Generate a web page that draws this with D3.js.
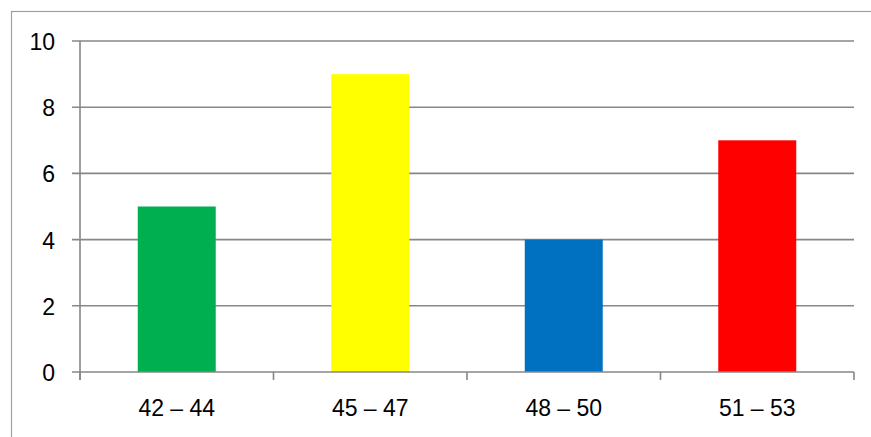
<!DOCTYPE html>
<html><head><meta charset="utf-8">
<script src="https://cdn.jsdelivr.net/npm/d3@7"></script>
<style>body{margin:0;background:#fff}svg{display:block}</style>
</head><body>
<script>
const categories = ["42 – 44", "45 – 47", "48 – 50", "51 – 53"];
const values = [5, 9, 4, 7];
const colors = ["#00B050", "#FFFF00", "#0070C0", "#FF0000"];
const yTicks = [0, 2, 4, 6, 8, 10];

const W = 871, H = 437;
const m = {left: 80, right: 17, top: 41, bottom: 65};
const svg = d3.select("body").append("svg").attr("width", W).attr("height", H);

// chart border (extends past right/bottom)
svg.append("rect").attr("x", 11.5).attr("y", 11.5).attr("width", W + 10).attr("height", H + 10)
  .attr("fill", "none").attr("stroke", "#a0a0a0").attr("stroke-width", 1.2);

const x = d3.scaleBand().domain(categories).range([m.left, W - m.right]).paddingInner(0.597).paddingOuter(0.2985);
const xb = d3.scaleBand().domain(categories).range([m.left, W - m.right]);
const y = d3.scaleLinear().domain([0, 10]).range([H - m.bottom, m.top]);

const gridColor = "#878787";
// gridlines
svg.append("g").selectAll("line").data(yTicks.filter(d => d > 0)).join("line")
  .attr("x1", m.left - 8).attr("x2", W - m.right)
  .attr("y1", d => y(d)).attr("y2", d => y(d))
  .attr("stroke", gridColor).attr("stroke-width", 1.6);

// bars
svg.append("g").selectAll("rect").data(values).join("rect")
  .attr("x", (d, i) => x(categories[i])).attr("width", x.bandwidth())
  .attr("y", d => y(d)).attr("height", d => y(0) - y(d))
  .attr("fill", (d, i) => colors[i]);

// y axis line
svg.append("line").attr("x1", m.left).attr("x2", m.left).attr("y1", y(10)).attr("y2", y(0) + 8)
  .attr("stroke", gridColor).attr("stroke-width", 1.6);
// x axis baseline
svg.append("line").attr("x1", m.left - 8).attr("x2", W - m.right).attr("y1", y(0)).attr("y2", y(0))
  .attr("stroke", gridColor).attr("stroke-width", 1.6);
// x tick marks at boundaries
const bounds = categories.map(c => xb(c)).concat([W - m.right]);
svg.append("g").selectAll("line").data(bounds).join("line")
  .attr("x1", d => d).attr("x2", d => d).attr("y1", y(0)).attr("y2", y(0) + 8)
  .attr("stroke", gridColor).attr("stroke-width", 1.6);

const font = "'Liberation Sans', Arial, sans-serif";
// y labels
svg.append("g").selectAll("text").data(yTicks).join("text")
  .attr("x", m.left - 25).attr("y", d => y(d) + 1).attr("dy", "0.35em")
  .attr("text-anchor", "end").attr("font-family", font).attr("font-size", 23).attr("fill", "#000")
  .text(d => d);
// x labels
svg.append("g").selectAll("text").data(categories).join("text")
  .attr("x", d => xb(d) + xb.bandwidth() / 2).attr("y", y(0) + 36).attr("dy", "0.35em")
  .attr("text-anchor", "middle").attr("font-family", font).attr("font-size", 23).attr("fill", "#000")
  .text(d => d);
</script>
</body></html>
